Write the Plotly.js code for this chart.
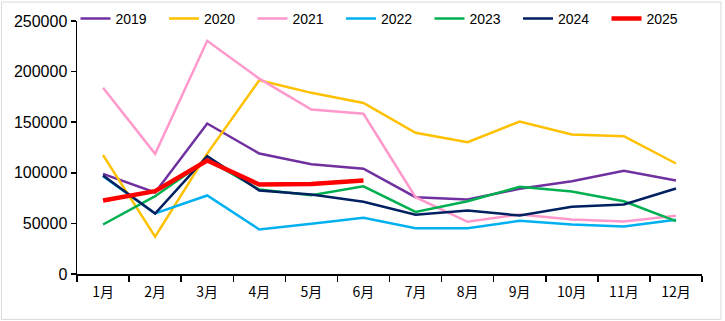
<!DOCTYPE html>
<html>
<head>
<meta charset="utf-8">
<script src="https://cdn.plot.ly/plotly-3.0.1.min.js"></script>
<style>html,body{margin:0;padding:0;background:#fff;}#chart{width:725px;height:321px;}</style>
</head>
<body>
<div id="chart"></div>
<script>
const months = ["1月","2月","3月","4月","5月","6月","7月","8月","9月","10月","11月","12月"];
const y2019 = [99000, 80500, 148700, 119000, 108500, 104000, 75900, 73600, 84200, 91700, 102000, 92400];
const y2020 = [117400, 36800, 119000, 191500, 179000, 169000, 139500, 130200, 150700, 137800, 136200, 109200];
const y2021 = [184000, 118800, 230400, 193000, 162500, 158300, 75900, 51600, 58800, 53800, 51900, 57500];
const y2022 = [96600, 59800, 77600, 44000, 49600, 55500, 45300, 45300, 52500, 48900, 46900, 53500];
const y2023 = [48900, 76900, 113000, 83500, 77900, 86700, 61400, 71900, 86100, 81500, 71900, 52200];
const y2024 = [97300, 59800, 116400, 82500, 78500, 71300, 58500, 62700, 57800, 66400, 68700, 84500];
const y2025 = [72600, 81800, 112100, 88400, 89000, 92400];
const seriesNames = ["2019","2020","2021","2022","2023","2024","2025"];
const seriesData = [y2019, y2020, y2021, y2022, y2023, y2024, y2025];
const colors = ["#7030A0","#FFC000","#FF99CC","#00B0F0","#00B050","#002060","#FF0000"];
const widths = [2.5,2.5,2.5,2.5,2.5,2.5,4.5];

const traces = seriesData.map((d,i)=>({
  type:'scatter', mode:'lines', name:seriesNames[i],
  x: months.slice(0,d.length), y:d,
  line:{color:colors[i], width:widths[i]}
}));

const layout = {
  width:725, height:321,
  margin:{l:77, r:23, t:21, b:47, autoexpand:false},
  paper_bgcolor:'#fff', plot_bgcolor:'#fff',
  showlegend:true,
  legend:{orientation:'h', x:-0.0024, y:1.008, xanchor:'left', yanchor:'middle',
    font:{family:'Liberation Sans, Arial, sans-serif', size:14, color:'#000'},
    entrywidth:43.5, entrywidthmode:'pixels', bgcolor:'rgba(0,0,0,0)', traceorder:'normal'},
  xaxis:{type:'category', categoryorder:'array', categoryarray:months,
    range:[-0.5,11.5], showline:true, linecolor:'#000', linewidth:1.5,
    ticks:'outside', tickson:'boundaries', ticklen:6, tickcolor:'#000', tickwidth:1.5,
    showgrid:false, zeroline:false, ticklabelstandoff:5,
    tickfont:{family:'Noto Sans CJK SC, sans-serif', size:14, color:'#000'}},
  yaxis:{range:[0,250000], tickvals:[0,50000,100000,150000,200000,250000],
    ticktext:["0","50000","100000","150000","200000","250000"],
    showline:true, linecolor:'#000', linewidth:1.5,
    ticks:'outside', ticklen:5, tickcolor:'#000', tickwidth:1.5,
    showgrid:false, zeroline:false,
    tickfont:{family:'Liberation Sans, Arial, sans-serif', size:16, color:'#000'}},
  shapes:[{type:'rect', xref:'paper', yref:'paper', x0:-0.1208, x1:1.0304, y0:-0.1795, y1:1.075,
    line:{color:'#D9D9D9', width:1}, fillcolor:'rgba(0,0,0,0)', layer:'below'}]
};
Plotly.newPlot('chart', traces, layout, {displayModeBar:false, staticPlot:true});
</script>
</body>
</html>
